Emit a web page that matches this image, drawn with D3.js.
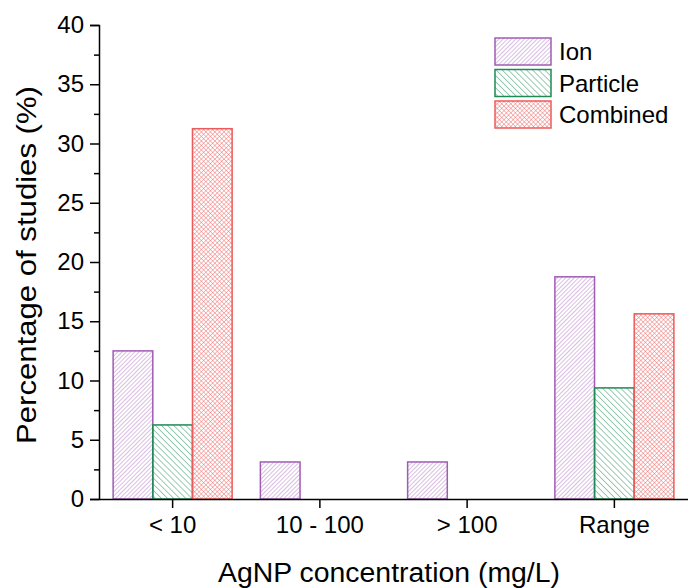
<!DOCTYPE html>
<meta charset="utf-8">
<style>
  body { margin: 0; background: #fff; }
  text { font-family: "Liberation Sans", Arial, sans-serif; fill: #000; }
</style>
<script src="https://d3js.org/d3.v7.min.js"></script>
<div id="chart"></div>
<script>
  // data
  var categories = ["< 10", "10 - 100", "> 100", "Range"];
  var seriesNames = ["Ion", "Particle", "Combined"];
  var ionValues = [12.5, 3.125, 3.125, 18.75];
  var particleValues = [6.25, 0, 0, 9.375];
  var combinedValues = [31.25, 0, 0, 15.625];
  var yTicks = [0, 5, 10, 15, 20, 25, 30, 35, 40];

  var colors = { Ion: "#a05cb4", Particle: "#1f8a55", Combined: "#ec5b5b" };
  var patterns = { Ion: "hatchIon", Particle: "hatchParticle", Combined: "hatchCombined" };

  var W = 688, H = 588;
  var margin = { top: 25, right: 0, bottom: 89, left: 99 };
  var width = W - margin.left - margin.right,
    height = H - margin.top - margin.bottom;

  var svg = d3.select("#chart").append("svg")
    .attr("width", W)
    .attr("height", H);

  // hatch patterns
  var defs = svg.append("defs");
  function hatch(id, color, angle, size, sw) {
    var p = defs.append("pattern")
      .attr("id", id)
      .attr("patternUnits", "userSpaceOnUse")
      .attr("width", size)
      .attr("height", size)
      .attr("patternTransform", "rotate(" + angle + ")");
    p.append("line")
      .attr("x1", 0).attr("y1", 0).attr("x2", 0).attr("y2", size)
      .attr("stroke", color).attr("stroke-width", sw);
  }
  hatch("hatchIon", colors.Ion, 45, 3, 0.8);
  hatch("hatchParticle", colors.Particle, -45, 4.3, 0.9);
  // crosshatch
  var cs = 3.2;
  var cp = defs.append("pattern")
    .attr("id", "hatchCombined")
    .attr("patternUnits", "userSpaceOnUse")
    .attr("width", cs)
    .attr("height", cs)
    .attr("patternTransform", "rotate(45)");
  cp.append("line").attr("x1", 0).attr("y1", 0).attr("x2", 0).attr("y2", cs)
    .attr("stroke", colors.Combined).attr("stroke-width", 0.8);
  cp.append("line").attr("x1", 0).attr("y1", 0).attr("x2", cs).attr("y2", 0)
    .attr("stroke", colors.Combined).attr("stroke-width", 0.8);

  var g = svg.append("g")
    .attr("transform", "translate(" + margin.left + "," + margin.top + ")");

  var x = d3.scaleBand()
    .domain(categories)
    .range([0, width]);

  var xSub = d3.scaleBand()
    .domain(seriesNames)
    .range([0, 119]);

  var y = d3.scaleLinear()
    .domain([0, 40])
    .range([height, 0]);

  var data = categories.map(function (c, i) {
    return { cat: c, values: [
      { name: "Ion", v: ionValues[i] },
      { name: "Particle", v: particleValues[i] },
      { name: "Combined", v: combinedValues[i] }
    ] };
  });

  // bars
  var groups = g.selectAll(".grp")
    .data(data)
    .enter().append("g")
    .attr("transform", function (d) {
      return "translate(" + (x(d.cat) + x.bandwidth() / 2 - 59.5) + ",0)";
    });

  groups.selectAll("rect")
    .data(function (d) { return d.values.filter(function (e) { return e.v > 0; }); })
    .enter().append("rect")
    .attr("x", function (d) { return xSub(d.name); })
    .attr("width", xSub.bandwidth())
    .attr("y", function (d) { return y(d.v); })
    .attr("height", function (d) { return height - y(d.v); })
    .attr("fill", function (d) { return "url(#" + patterns[d.name] + ")"; })
    .attr("stroke", function (d) { return colors[d.name]; })
    .attr("stroke-width", 1.5);

  // y axis
  var yAxis = g.append("g")
    .call(d3.axisLeft(y).tickValues(yTicks).tickSize(9).tickPadding(6));
  yAxis.selectAll("text").style("font-size", "24px");
  g.append("g")
    .call(d3.axisLeft(y).tickValues(d3.range(2.5, 40, 5)).tickSize(5).tickFormat(""))
    .select(".domain").remove();

  // x axis
  var xAxis = g.append("g")
    .attr("transform", "translate(0," + height + ")")
    .call(d3.axisBottom(x).tickSize(9).tickSizeOuter(0).tickPadding(8));
  xAxis.selectAll("text").style("font-size", "24px");

  g.selectAll(".domain, .tick line").attr("stroke", "#000").attr("stroke-width", 1.5);

  // axis titles
  svg.append("text")
    .attr("transform", "translate(36," + 265 + ") rotate(-90)")
    .attr("text-anchor", "middle")
    .attr("textLength", 358)
    .attr("lengthAdjust", "spacingAndGlyphs")
    .style("font-size", "27px")
    .text("Percentage of studies (%)");

  svg.append("text")
    .attr("x", 389)
    .attr("y", 582)
    .attr("text-anchor", "middle")
    .attr("textLength", 342)
    .attr("lengthAdjust", "spacingAndGlyphs")
    .style("font-size", "27px")
    .text("AgNP concentration (mg/L)");

  // legend
  var legend = svg.append("g").attr("transform", "translate(495,38)");
  var items = legend.selectAll("g")
    .data(seriesNames)
    .enter().append("g")
    .attr("transform", function (d, i) { return "translate(0," + (i * 31.5) + ")"; });
  items.append("rect")
    .attr("width", 56).attr("height", 27)
    .attr("fill", function (d) { return "url(#" + patterns[d] + ")"; })
    .attr("stroke", function (d) { return colors[d]; })
    .attr("stroke-width", 1.5);
  items.append("text")
    .attr("x", 64).attr("y", 22)
    .style("font-size", "24px")
    .text(function (d) { return d; });
</script>
